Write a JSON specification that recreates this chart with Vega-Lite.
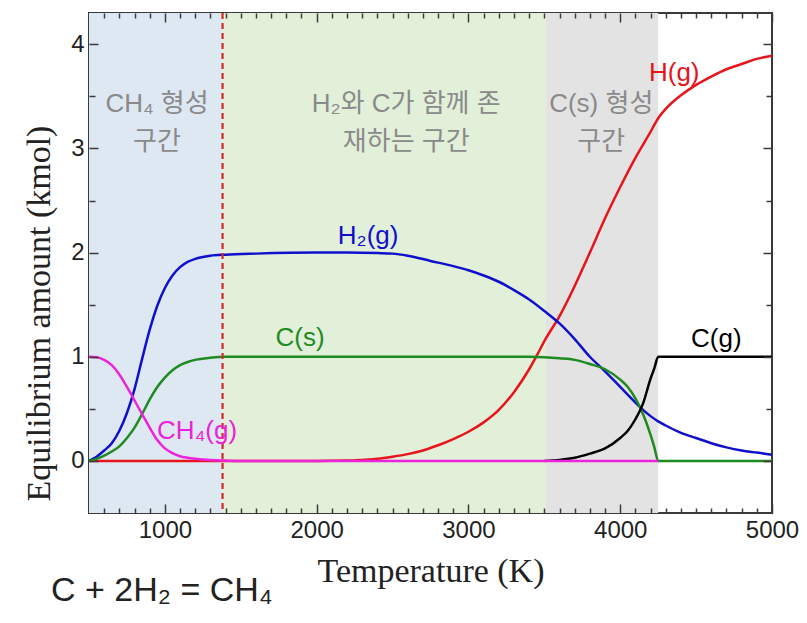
{
  "$schema": "https://vega.github.io/schema/vega-lite/v6.json",
  "width": 683,
  "height": 500,
  "autosize": "none",
  "padding": {"left": 89, "top": 13, "right": 35, "bottom": 110},
  "background": "white",
  "config": {
    "view": {"stroke": "#3a3a3a", "strokeWidth": 2},
    "axis": {
      "domain": false, "grid": false, "tickColor": "#3a3a3a", "tickWidth": 1.5, "labelFlush": false,
      "labelFont": "Liberation Sans", "labelFontSize": 24, "labelColor": "#222222",
      "titleFont": "Liberation Serif", "titleFontSize": 34, "titleFontWeight": "normal", "titleColor": "#222222"
    }
  },
  "datasets": {
    "zones": [
      {"start": 500, "end": 1380, "zone": "a"},
      {"start": 1380, "end": 3510, "zone": "b"},
      {"start": 3510, "end": 4250, "zone": "c"}
    ],
    "curves": [
      {"s": "H(g)", "T": 500, "v": 0}, {"s": "H(g)", "T": 1000, "v": 0}, {"s": "H(g)", "T": 1500, "v": 0}, {"s": "H(g)", "T": 2000, "v": 0},
      {"s": "H(g)", "T": 2200, "v": 0.003}, {"s": "H(g)", "T": 2300, "v": 0.01}, {"s": "H(g)", "T": 2400, "v": 0.02}, {"s": "H(g)", "T": 2500, "v": 0.04},
      {"s": "H(g)", "T": 2600, "v": 0.065}, {"s": "H(g)", "T": 2700, "v": 0.1}, {"s": "H(g)", "T": 2800, "v": 0.15}, {"s": "H(g)", "T": 2900, "v": 0.21},
      {"s": "H(g)", "T": 3000, "v": 0.28}, {"s": "H(g)", "T": 3100, "v": 0.37}, {"s": "H(g)", "T": 3200, "v": 0.49}, {"s": "H(g)", "T": 3300, "v": 0.66},
      {"s": "H(g)", "T": 3400, "v": 0.88}, {"s": "H(g)", "T": 3450, "v": 1.01}, {"s": "H(g)", "T": 3500, "v": 1.15}, {"s": "H(g)", "T": 3600, "v": 1.39},
      {"s": "H(g)", "T": 3700, "v": 1.68}, {"s": "H(g)", "T": 3800, "v": 2.0}, {"s": "H(g)", "T": 3900, "v": 2.33}, {"s": "H(g)", "T": 4000, "v": 2.63},
      {"s": "H(g)", "T": 4100, "v": 2.91}, {"s": "H(g)", "T": 4200, "v": 3.16}, {"s": "H(g)", "T": 4250, "v": 3.29}, {"s": "H(g)", "T": 4300, "v": 3.38},
      {"s": "H(g)", "T": 4400, "v": 3.51}, {"s": "H(g)", "T": 4500, "v": 3.61}, {"s": "H(g)", "T": 4600, "v": 3.69}, {"s": "H(g)", "T": 4700, "v": 3.76},
      {"s": "H(g)", "T": 4800, "v": 3.81}, {"s": "H(g)", "T": 4900, "v": 3.86}, {"s": "H(g)", "T": 5000, "v": 3.89},

      {"s": "H₂(g)", "T": 500, "v": 0}, {"s": "H₂(g)", "T": 550, "v": 0.04}, {"s": "H₂(g)", "T": 600, "v": 0.1}, {"s": "H₂(g)", "T": 650, "v": 0.17},
      {"s": "H₂(g)", "T": 700, "v": 0.29}, {"s": "H₂(g)", "T": 750, "v": 0.46}, {"s": "H₂(g)", "T": 800, "v": 0.69}, {"s": "H₂(g)", "T": 850, "v": 0.98},
      {"s": "H₂(g)", "T": 900, "v": 1.26}, {"s": "H₂(g)", "T": 950, "v": 1.49}, {"s": "H₂(g)", "T": 1000, "v": 1.66}, {"s": "H₂(g)", "T": 1050, "v": 1.78},
      {"s": "H₂(g)", "T": 1100, "v": 1.86}, {"s": "H₂(g)", "T": 1150, "v": 1.91}, {"s": "H₂(g)", "T": 1200, "v": 1.94}, {"s": "H₂(g)", "T": 1300, "v": 1.97},
      {"s": "H₂(g)", "T": 1400, "v": 1.98}, {"s": "H₂(g)", "T": 1600, "v": 1.99}, {"s": "H₂(g)", "T": 2000, "v": 2.0}, {"s": "H₂(g)", "T": 2200, "v": 2.0},
      {"s": "H₂(g)", "T": 2400, "v": 1.995}, {"s": "H₂(g)", "T": 2500, "v": 1.99}, {"s": "H₂(g)", "T": 2600, "v": 1.97}, {"s": "H₂(g)", "T": 2750, "v": 1.92},
      {"s": "H₂(g)", "T": 2900, "v": 1.87}, {"s": "H₂(g)", "T": 3000, "v": 1.83}, {"s": "H₂(g)", "T": 3100, "v": 1.78}, {"s": "H₂(g)", "T": 3200, "v": 1.72},
      {"s": "H₂(g)", "T": 3300, "v": 1.64}, {"s": "H₂(g)", "T": 3400, "v": 1.55}, {"s": "H₂(g)", "T": 3500, "v": 1.44}, {"s": "H₂(g)", "T": 3600, "v": 1.32},
      {"s": "H₂(g)", "T": 3700, "v": 1.17}, {"s": "H₂(g)", "T": 3800, "v": 1.0}, {"s": "H₂(g)", "T": 3900, "v": 0.86}, {"s": "H₂(g)", "T": 4000, "v": 0.71},
      {"s": "H₂(g)", "T": 4100, "v": 0.56}, {"s": "H₂(g)", "T": 4150, "v": 0.49}, {"s": "H₂(g)", "T": 4200, "v": 0.43}, {"s": "H₂(g)", "T": 4250, "v": 0.38},
      {"s": "H₂(g)", "T": 4300, "v": 0.34}, {"s": "H₂(g)", "T": 4400, "v": 0.27}, {"s": "H₂(g)", "T": 4500, "v": 0.22}, {"s": "H₂(g)", "T": 4600, "v": 0.17},
      {"s": "H₂(g)", "T": 4700, "v": 0.13}, {"s": "H₂(g)", "T": 4800, "v": 0.1}, {"s": "H₂(g)", "T": 4900, "v": 0.08}, {"s": "H₂(g)", "T": 5000, "v": 0.06},

      {"s": "C(s)", "T": 500, "v": 0}, {"s": "C(s)", "T": 550, "v": 0.02}, {"s": "C(s)", "T": 600, "v": 0.05}, {"s": "C(s)", "T": 650, "v": 0.09},
      {"s": "C(s)", "T": 700, "v": 0.14}, {"s": "C(s)", "T": 750, "v": 0.22}, {"s": "C(s)", "T": 800, "v": 0.32}, {"s": "C(s)", "T": 850, "v": 0.45},
      {"s": "C(s)", "T": 900, "v": 0.59}, {"s": "C(s)", "T": 950, "v": 0.71}, {"s": "C(s)", "T": 1000, "v": 0.8}, {"s": "C(s)", "T": 1050, "v": 0.87},
      {"s": "C(s)", "T": 1100, "v": 0.92}, {"s": "C(s)", "T": 1150, "v": 0.95}, {"s": "C(s)", "T": 1200, "v": 0.97}, {"s": "C(s)", "T": 1300, "v": 0.99},
      {"s": "C(s)", "T": 1400, "v": 1.0}, {"s": "C(s)", "T": 2000, "v": 1.0}, {"s": "C(s)", "T": 3000, "v": 1.0}, {"s": "C(s)", "T": 3400, "v": 1.0},
      {"s": "C(s)", "T": 3500, "v": 0.995}, {"s": "C(s)", "T": 3600, "v": 0.985}, {"s": "C(s)", "T": 3700, "v": 0.97}, {"s": "C(s)", "T": 3800, "v": 0.93},
      {"s": "C(s)", "T": 3900, "v": 0.88}, {"s": "C(s)", "T": 4000, "v": 0.78}, {"s": "C(s)", "T": 4050, "v": 0.71}, {"s": "C(s)", "T": 4100, "v": 0.6},
      {"s": "C(s)", "T": 4150, "v": 0.45}, {"s": "C(s)", "T": 4200, "v": 0.25}, {"s": "C(s)", "T": 4225, "v": 0.13}, {"s": "C(s)", "T": 4250, "v": 0},
      {"s": "C(s)", "T": 5000, "v": 0},

      {"s": "C(g)", "T": 3500, "v": 0}, {"s": "C(g)", "T": 3600, "v": 0.01}, {"s": "C(g)", "T": 3700, "v": 0.03}, {"s": "C(g)", "T": 3800, "v": 0.07},
      {"s": "C(g)", "T": 3900, "v": 0.12}, {"s": "C(g)", "T": 4000, "v": 0.22}, {"s": "C(g)", "T": 4050, "v": 0.29}, {"s": "C(g)", "T": 4100, "v": 0.4},
      {"s": "C(g)", "T": 4150, "v": 0.55}, {"s": "C(g)", "T": 4200, "v": 0.79}, {"s": "C(g)", "T": 4225, "v": 0.89}, {"s": "C(g)", "T": 4250, "v": 1.0},
      {"s": "C(g)", "T": 5000, "v": 1.0},

      {"s": "CH₄(g)", "T": 500, "v": 1.0}, {"s": "CH₄(g)", "T": 550, "v": 0.995}, {"s": "CH₄(g)", "T": 600, "v": 0.97}, {"s": "CH₄(g)", "T": 650, "v": 0.92},
      {"s": "CH₄(g)", "T": 700, "v": 0.83}, {"s": "CH₄(g)", "T": 750, "v": 0.71}, {"s": "CH₄(g)", "T": 800, "v": 0.58}, {"s": "CH₄(g)", "T": 850, "v": 0.45},
      {"s": "CH₄(g)", "T": 900, "v": 0.32}, {"s": "CH₄(g)", "T": 950, "v": 0.2}, {"s": "CH₄(g)", "T": 1000, "v": 0.12}, {"s": "CH₄(g)", "T": 1050, "v": 0.075},
      {"s": "CH₄(g)", "T": 1100, "v": 0.045}, {"s": "CH₄(g)", "T": 1150, "v": 0.03}, {"s": "CH₄(g)", "T": 1200, "v": 0.02}, {"s": "CH₄(g)", "T": 1300, "v": 0.008},
      {"s": "CH₄(g)", "T": 1400, "v": 0.003}, {"s": "CH₄(g)", "T": 1500, "v": 0}, {"s": "CH₄(g)", "T": 2000, "v": 0}, {"s": "CH₄(g)", "T": 3000, "v": 0},
      {"s": "CH₄(g)", "T": 4000, "v": 0}, {"s": "CH₄(g)", "T": 4250, "v": 0}
    ],
    "curveLabels": [
      {"s": "H(g)", "T": 4356, "v": 3.72},
      {"s": "H₂(g)", "T": 2339, "v": 2.16},
      {"s": "C(s)", "T": 1891, "v": 1.18},
      {"s": "C(g)", "T": 4633, "v": 1.17},
      {"s": "CH₄(g)", "T": 1212, "v": 0.29}
    ],
    "zoneLabels": [
      {"T": 948, "v": 3.43, "text": "CH₄ 형성"},
      {"T": 948, "v": 3.06, "text": "구간"},
      {"T": 2590, "v": 3.43, "text": "H₂와 C가 함께 존"},
      {"T": 2590, "v": 3.06, "text": "재하는 구간"},
      {"T": 3875, "v": 3.43, "text": "C(s) 형성"},
      {"T": 3875, "v": 3.06, "text": "구간"}
    ],
    "boundary": [{"T": 1380}],
    "equation": [{"T": 980, "v": -1.25, "text": "C + 2H₂ = CH₄"}]
  },
  "layer": [
    {
      "data": {"name": "zones"},
      "mark": {"type": "rect"},
      "encoding": {
        "x": {"field": "start", "type": "quantitative",
              "scale": {"domain": [500, 5000], "nice": false, "zero": false},
              "axis": {"orient": "bottom", "values": [1000, 2000, 3000, 4000, 5000], "format": "d", "tickSize": -9, "labelPadding": 14, "zindex": 1,
                       "title": "Temperature (K)", "titlePadding": 12}},
        "x2": {"field": "end"},
        "fill": {"field": "zone", "type": "nominal", "legend": null,
                 "scale": {"domain": ["a", "b", "c"], "range": ["#dee8f3", "#e2efd9", "#e3e3e3"]}}
      }
    },
    {
      "data": {"name": "curves"},
      "mark": {"type": "line", "strokeWidth": 2.5, "interpolate": "monotone"},
      "encoding": {
        "x": {"field": "T", "type": "quantitative",
              "scale": {"domain": [500, 5000], "nice": false, "zero": false},
              "axis": {"orient": "bottom", "values": [600,700,800,900,1100,1200,1300,1400,1500,1600,1700,1800,1900,2100,2200,2300,2400,2500,2600,2700,2800,2900,3100,3200,3300,3400,3500,3600,3700,3800,3900,4100,4200,4300,4400,4500,4600,4700,4800,4900],
                       "tickSize": -5, "labels": false, "title": null, "zindex": 1}},
        "y": {"field": "v", "type": "quantitative",
              "scale": {"domain": [-0.5, 4.3], "nice": false, "zero": false},
              "axis": {"orient": "left", "values": [0, 1, 2, 3, 4], "tickSize": -9, "labelPadding": 14, "zindex": 1,
                       "title": "Equilibrium amount (kmol)", "titlePadding": 14, "titleY": 300}},
        "color": {"field": "s", "type": "nominal", "legend": null,
                  "scale": {"domain": ["H(g)", "H₂(g)", "C(s)", "C(g)", "CH₄(g)"],
                            "range": ["#e8141c", "#1010cc", "#1f8a1f", "#000000", "#ec22dc"]}},
        "order": {"field": "T", "type": "quantitative"}
      }
    },
    {
      "data": {"name": "boundary"},
      "mark": {"type": "rule", "color": "#d42a2a", "strokeWidth": 2.2, "strokeDash": [6, 4]},
      "encoding": {
        "x": {"field": "T", "type": "quantitative",
              "scale": {"domain": [500, 5000], "nice": false, "zero": false},
              "axis": {"orient": "top", "values": [1000, 2000, 3000, 4000, 5000], "tickSize": -9, "labels": false, "title": null, "zindex": 1}}
      }
    },
    {
      "data": {"name": "zoneLabels"},
      "mark": {"type": "text", "font": "Liberation Sans, Noto Sans CJK KR", "fontSize": 26, "color": "#8a8a8a"},
      "encoding": {
        "x": {"field": "T", "type": "quantitative",
              "scale": {"domain": [500, 5000], "nice": false, "zero": false},
              "axis": {"orient": "top", "values": [600,700,800,900,1100,1200,1300,1400,1500,1600,1700,1800,1900,2100,2200,2300,2400,2500,2600,2700,2800,2900,3100,3200,3300,3400,3500,3600,3700,3800,3900,4100,4200,4300,4400,4500,4600,4700,4800,4900],
                       "tickSize": -5, "labels": false, "title": null, "zindex": 1}},
        "y": {"field": "v", "type": "quantitative",
              "scale": {"domain": [-0.5, 4.3], "nice": false, "zero": false},
              "axis": {"orient": "left", "values": [0.5, 1.5, 2.5, 3.5], "tickSize": -6, "labels": false, "title": null, "zindex": 1}},
        "text": {"field": "text"}
      }
    },
    {
      "data": {"name": "curveLabels"},
      "mark": {"type": "text", "font": "Liberation Sans", "fontSize": 26},
      "encoding": {
        "x": {"field": "T", "type": "quantitative", "axis": null,
              "scale": {"domain": [500, 5000], "nice": false, "zero": false}},
        "y": {"field": "v", "type": "quantitative",
              "scale": {"domain": [-0.5, 4.3], "nice": false, "zero": false},
              "axis": {"orient": "right", "values": [0, 1, 2, 3, 4], "tickSize": -9, "labels": false, "title": null, "zindex": 1}},
        "text": {"field": "s"},
        "color": {"field": "s", "type": "nominal", "legend": null}
      }
    },
    {
      "data": {"name": "equation"},
      "mark": {"type": "text", "font": "Liberation Sans", "fontSize": 34, "color": "#222222"},
      "encoding": {
        "x": {"field": "T", "type": "quantitative", "axis": null,
              "scale": {"domain": [500, 5000], "nice": false, "zero": false}},
        "y": {"field": "v", "type": "quantitative",
              "scale": {"domain": [-0.5, 4.3], "nice": false, "zero": false},
              "axis": {"orient": "right", "values": [0.5, 1.5, 2.5, 3.5], "tickSize": -6, "labels": false, "title": null, "zindex": 1}},
        "text": {"field": "text"}
      }
    }
  ],
  "resolve": {"axis": {"x": "independent", "y": "independent"}}
}
